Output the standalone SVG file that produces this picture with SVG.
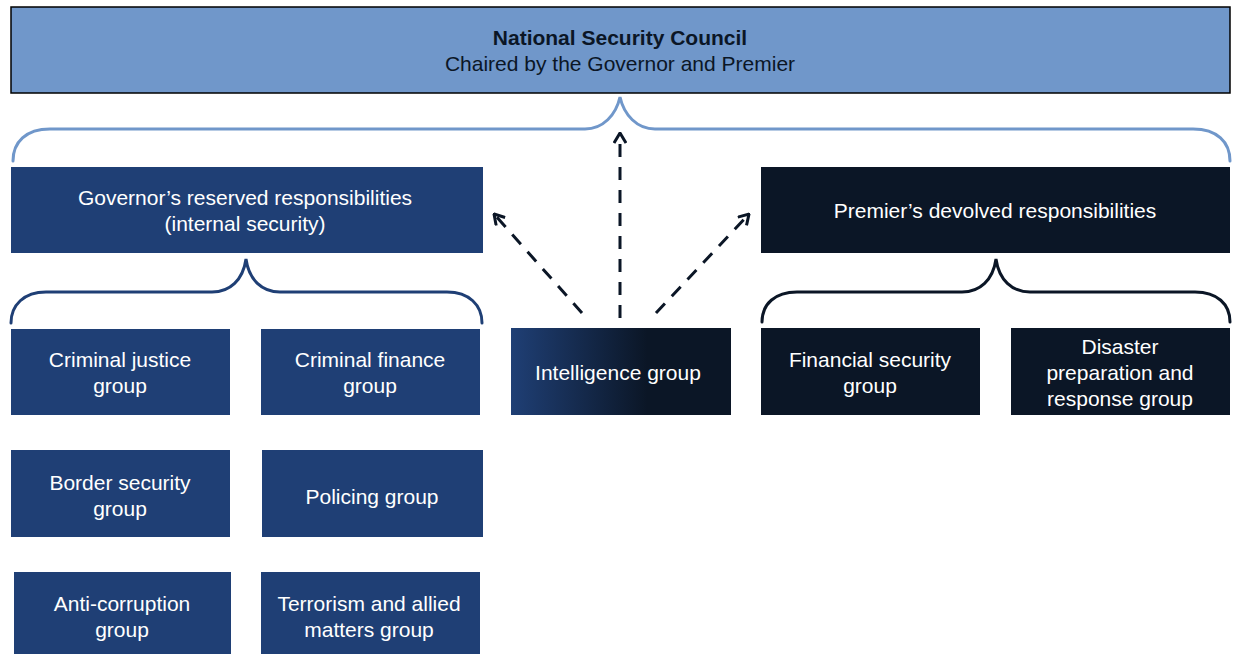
<svg xmlns="http://www.w3.org/2000/svg" width="1237" height="654" viewBox="0 0 1237 654">
  <style>
    text { font-family: "Liberation Sans", Arial, sans-serif; font-size: 21px; text-anchor: middle; }
    .lbl { fill: #FFFFFF; }
    .title { fill: #0B1626; }
    .gov { fill: #1F3F75; }
    .prem { fill: #0B1626; }
    .brace { fill: none; stroke-width: 3; stroke-linecap: round; }
    .dash { fill: none; stroke: #0B1626; stroke-width: 3; stroke-dasharray: 13 10; }
  </style>
  <defs>
    <linearGradient id="intelFill" x1="0" y1="0" x2="1" y2="0">
      <stop offset="0" stop-color="#1F3F75"/>
      <stop offset="0.62" stop-color="#0B1626"/>
      <stop offset="1" stop-color="#0B1626"/>
    </linearGradient>
    <marker id="chevron" viewBox="0 0 12 14" refX="11" refY="7" markerWidth="12" markerHeight="14" markerUnits="userSpaceOnUse" orient="auto">
      <polyline points="1,1 11,7 1,13" fill="none" stroke="#0B1626" stroke-width="3"/>
    </marker>
  </defs>

  <!-- top council -->
  <g id="council">
    <rect x="11" y="7" width="1219" height="86" fill="#7097CA" stroke="#000000" stroke-width="1.5"/>
    <text class="title" x="620" y="45" font-weight="bold">National Security Council</text>
    <text class="title" x="620" y="71">Chaired by the Governor and Premier</text>
  </g>

  <!-- braces and dashed arrows -->
  <g id="connectors">
    <path class="brace" stroke="#7097CA" d="M13,161 C13,142 26,129 50,129 L585,129 C603,129 616,115 620,97 C624,115 637,129 655,129 L1193,129 C1217,129 1230,142 1230,161"/>
    <path class="brace" stroke="#1F3F75" d="M11,323 C11,305 24,292 46,292 L212,292 C230,292 243,280 246,259 C249,280 262,292 280,292 L447,292 C469,292 482,305 482,323"/>
    <path class="brace" stroke="#0B1626" d="M762,322 C762,304 775,292 797,292 L962,292 C980,292 993,280 996,259 C999,280 1012,292 1030,292 L1195,292 C1217,292 1230,304 1230,322"/>
    <line class="dash" x1="620" y1="318" x2="620" y2="133" marker-end="url(#chevron)"/>
    <line class="dash" x1="582" y1="313" x2="494" y2="214" marker-end="url(#chevron)"/>
    <line class="dash" x1="656" y1="313" x2="749" y2="214" marker-end="url(#chevron)"/>
  </g>

  <g id="governor">
    <rect class="gov" x="11" y="167" width="472" height="86"/>
    <text class="lbl" x="245" y="205">Governor’s reserved responsibilities</text>
    <text class="lbl" x="245" y="231">(internal security)</text>
  </g>

  <g id="premier">
    <rect class="prem" x="761" y="167" width="469" height="86"/>
    <text class="lbl" x="995" y="218">Premier’s devolved responsibilities</text>
  </g>

  <g id="criminal-justice">
    <rect class="gov" x="11" y="329" width="219" height="86"/>
    <text class="lbl" x="120" y="367">Criminal justice</text>
    <text class="lbl" x="120" y="393">group</text>
  </g>

  <g id="criminal-finance">
    <rect class="gov" x="261" y="329" width="219" height="86"/>
    <text class="lbl" x="370" y="367">Criminal finance</text>
    <text class="lbl" x="370" y="393">group</text>
  </g>

  <g id="intelligence">
    <rect x="511" y="328" width="220" height="87" fill="url(#intelFill)"/>
    <text class="lbl" x="618" y="380">Intelligence group</text>
  </g>

  <g id="financial-security">
    <rect class="prem" x="761" y="328" width="219" height="87"/>
    <text class="lbl" x="870" y="367">Financial security</text>
    <text class="lbl" x="870" y="393">group</text>
  </g>

  <g id="disaster">
    <rect class="prem" x="1011" y="328" width="219" height="87"/>
    <text class="lbl" x="1120" y="354">Disaster</text>
    <text class="lbl" x="1120" y="380">preparation and</text>
    <text class="lbl" x="1120" y="406">response group</text>
  </g>

  <g id="border-security">
    <rect class="gov" x="11" y="450" width="219" height="87"/>
    <text class="lbl" x="120" y="490">Border security</text>
    <text class="lbl" x="120" y="516">group</text>
  </g>

  <g id="policing">
    <rect class="gov" x="262" y="450" width="221" height="87"/>
    <text class="lbl" x="372" y="504">Policing group</text>
  </g>

  <g id="anti-corruption">
    <rect class="gov" x="14" y="572" width="217" height="82"/>
    <text class="lbl" x="122" y="611">Anti-corruption</text>
    <text class="lbl" x="122" y="637">group</text>
  </g>

  <g id="terrorism">
    <rect class="gov" x="261" y="572" width="219" height="82"/>
    <text class="lbl" x="369" y="611">Terrorism and allied</text>
    <text class="lbl" x="369" y="637">matters group</text>
  </g>
</svg>
